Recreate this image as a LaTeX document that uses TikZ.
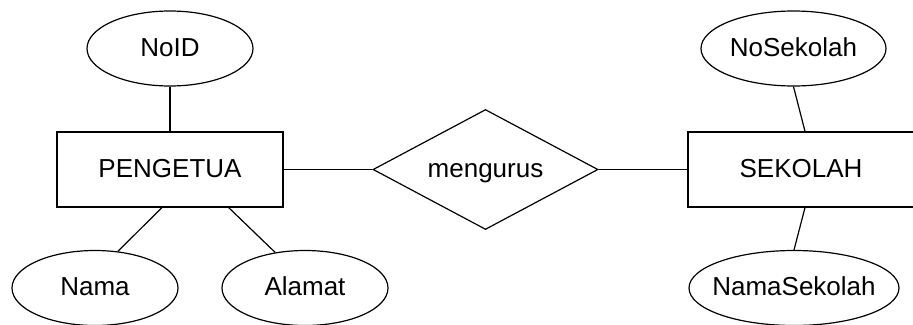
\documentclass[tikz,border=0pt]{standalone}
\usepackage{fontspec}
\setmainfont{Liberation Sans}
\usetikzlibrary{shapes.geometric}

\begin{document}
\begin{tikzpicture}[x=1pt, y=-1pt, line width=1.2pt,
    every node/.style={font=\fontsize{26}{30}\selectfont, text height=19.5pt, text depth=4.5pt},
    entity/.style={draw, rectangle, minimum width=226pt, minimum height=75pt, inner sep=0pt},
    attr/.style={draw, ellipse, minimum width=166pt, minimum height=75pt, inner sep=0pt, inner xsep=-20pt},
    rel/.style={draw, diamond, aspect=1.875, minimum width=225pt, minimum height=120pt, inner sep=0pt}]
  % fix the page size
  \useasboundingbox (0, 0) rectangle (913, 324);
  \clip (0, 0) rectangle (913, 324);
  % Draw entities and relation
  \node [entity] (pengetua) at (170, 169.5) {PENGETUA};
  \node [entity] (sekolah) at (801, 169.5) {SEKOLAH};
  \node [rel] (mengurus) at (485.5, 169.5) {mengurus};
  % Draw attributes
  \node [attr] (noid) at (170, 48.5) {NoID};
  \node [attr] (nama) at (95, 288) {Nama};
  \node [attr] (alamat) at (305, 288) {Alamat};
  \node [attr, minimum width=185pt] (nosekolah) at (793.5, 48.5) {NoSekolah};
  \node [attr, minimum width=210pt] (namasekolah) at (794, 288) {NamaSekolah};
  % Draw lines
  \draw (pengetua) -- (mengurus);
  \draw (mengurus) -- (sekolah);
  \draw (noid.south) -- (pengetua.north);
  \draw (pengetua.-102) -- (nama.58);
  \draw (pengetua.-33) -- (alamat.130);
  \draw (nosekolah.south) -- (sekolah.84);
  \draw (sekolah.-84) -- (namasekolah.north);
\end{tikzpicture}
\end{document}
